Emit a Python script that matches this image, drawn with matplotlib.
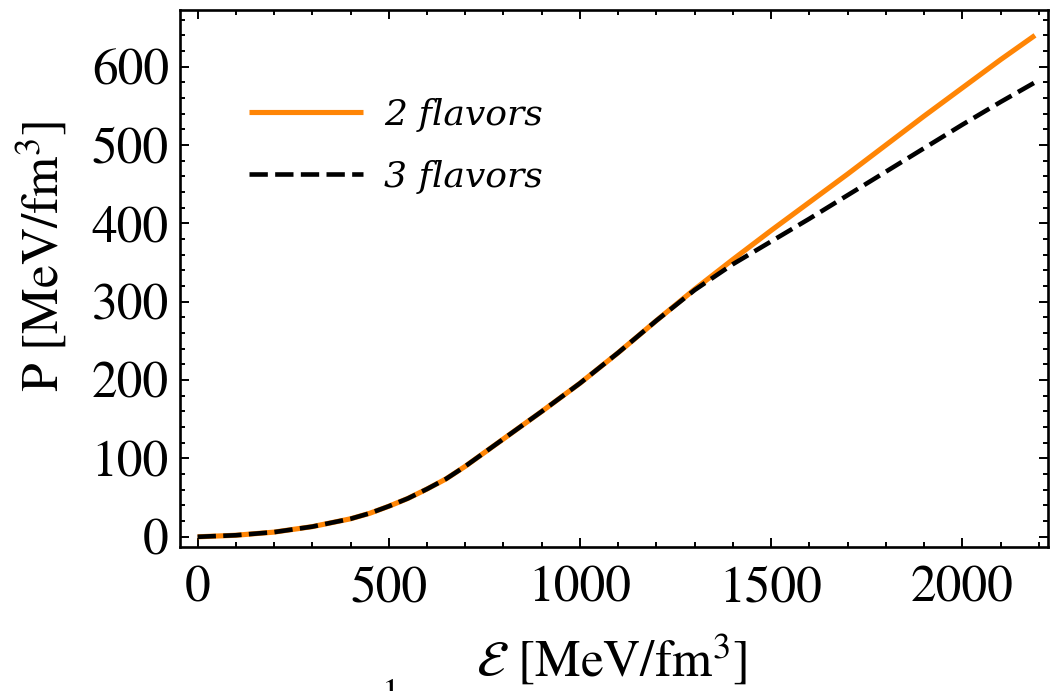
#!/usr/bin/env python
# EoS: pressure vs energy density, 2 vs 3 flavors

import matplotlib
matplotlib.use('Agg')
import matplotlib.pyplot as plt
import matplotlib.ticker as tkr

plt.rcParams['font.family'] = 'STIXGeneral'
plt.rcParams['mathtext.fontset'] = 'stix'

ORANGE = '#ff8505'
TICK_FONT_SIZE = 37

# energy density [MeV/fm^3]
eps = [0, 100, 200, 300, 400, 450, 500, 550, 600, 650, 700, 800, 900, 1000,
       1100, 1200, 1300, 1400, 1500, 1600, 1700, 1800, 1900, 2000, 2100, 2190]
# pressure [MeV/fm^3]
p_2flavors = [0, 2, 6, 13, 23, 30, 39, 49, 61, 74, 90, 125, 160, 196,
              235, 276, 316, 354, 391, 427, 463, 500, 537, 573, 609, 640]
p_3flavors = [0, 2, 6, 13, 23, 30, 39, 49, 61, 74, 90, 125, 160, 196,
              235, 276, 315, 348, 377, 406, 436, 466, 496, 526, 555, 580]

labels = ['2 flavors', '3 flavors']

fig = plt.figure(figsize=(10.5, 6.91), dpi=100)
ax = fig.add_axes([180 / 1050., 1 - 547 / 691., 868 / 1050., 537.5 / 691.])

ax.plot(eps, p_2flavors, color=ORANGE, lw=3.7, label=labels[0], solid_capstyle='butt')
ax.plot(eps, p_3flavors, color='black', lw=3.3, ls=(0, (4, 1.6)), label=labels[1])

ax.set_xlim(-46, 2224)
ax.set_ylim(-13, 673)

ax.xaxis.set_major_locator(tkr.MultipleLocator(500))
ax.xaxis.set_minor_locator(tkr.MultipleLocator(100))
ax.yaxis.set_major_locator(tkr.MultipleLocator(100))
ax.yaxis.set_minor_locator(tkr.MultipleLocator(20))

for s in ax.spines.values():
    s.set_linewidth(1.9)

ax.tick_params(which='both', direction='in', top=True, right=True, width=1.4)
ax.tick_params(which='major', length=6.5, labelsize=TICK_FONT_SIZE)
ax.tick_params(which='minor', length=3.8)
ax.tick_params(axis='y', which='major', pad=8)
ax.tick_params(axis='x', which='major', pad=14)

ax.set_ylabel(r'P [MeV/fm$^3$]', fontsize=TICK_FONT_SIZE)
ax.yaxis.set_label_coords(-0.127, 0.54)
fig.text(611 / 1050., 1 - 677 / 691., r'$\mathcal{E}$ [MeV/fm$^3$]',
         fontsize=TICK_FONT_SIZE, ha='center', va='baseline')

# stray bit of a caption cut off at the bottom edge
fig.text(391 / 1050., 1 - 679 / 691., '1', fontsize=26, ha='center', va='top')

leg = ax.legend(loc='upper left', bbox_to_anchor=(0.0795, 0.836), frameon=False,
                prop={'family': 'DejaVu Serif', 'style': 'italic', 'size': 26},
                handlelength=3.15, handletextpad=0.6, labelspacing=0.78,
                borderpad=0, borderaxespad=0)

fig.savefig('out.png', dpi=100)
